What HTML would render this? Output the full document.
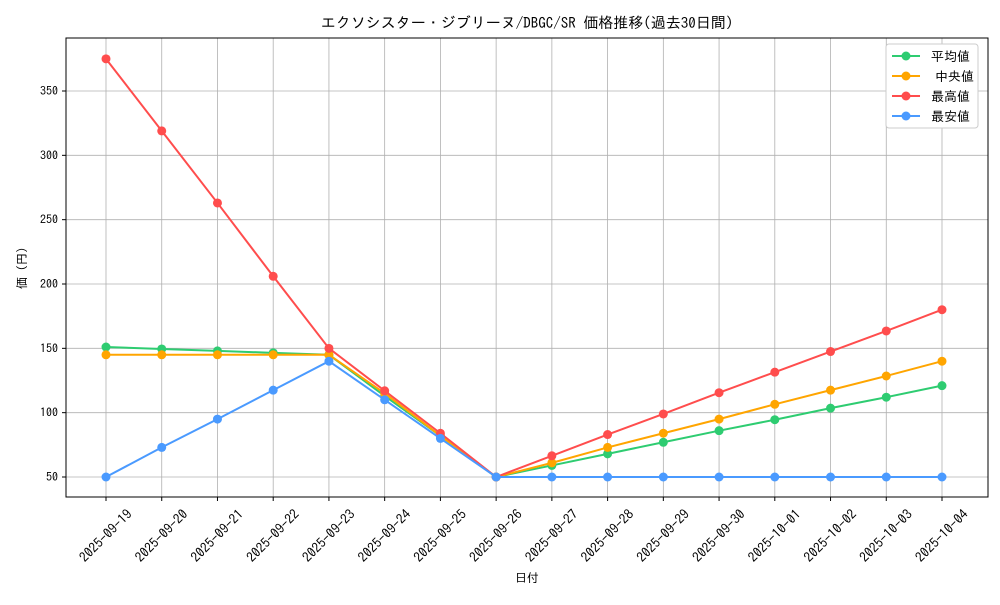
<!DOCTYPE html>
<html><head><meta charset="utf-8"><style>
html,body{margin:0;padding:0;background:#fff;}
svg text{font-family:"IPAGothic","Noto Sans CJK JP",sans-serif;fill:#000;}
</style></head><body>
<svg id="c" width="1000" height="600" xmlns="http://www.w3.org/2000/svg"></svg>
<script>
const s=document.getElementById('c');
const L=66,R=988,T=38,B=497;
const x0=106,dx=(942-106)/15;
const y=v=>477-(v-50)*(386/300);
let h='<rect width="1000" height="600" fill="#fff"/>';
const dates=["2025-09-19","2025-09-20","2025-09-21","2025-09-22","2025-09-23","2025-09-24","2025-09-25","2025-09-26","2025-09-27","2025-09-28","2025-09-29","2025-09-30","2025-10-01","2025-10-02","2025-10-03","2025-10-04"];
dates.forEach((d,i)=>{const x=x0+i*dx;h+=`<line x1="${x}" y1="${T}" x2="${x}" y2="${B}" stroke="#b0b0b0" stroke-width="0.8"/>`;
h+=`<line x1="${x}" y1="${B}" x2="${x}" y2="${B+4}" stroke="#000"/>`;
h+=`<text font-size="13.5" text-anchor="middle" transform="translate(${x+3},${B+42}) rotate(-45)">${d}</text>`;});
[50,100,150,200,250,300,350].forEach(v=>{const yy=y(v);h+=`<line x1="${L}" y1="${yy}" x2="${R}" y2="${yy}" stroke="#b0b0b0" stroke-width="0.8"/>`;
h+=`<line x1="${L-4}" y1="${yy}" x2="${L}" y2="${yy}" stroke="#000"/>`;
h+=`<text x="${L-8}" y="${yy+4}" font-size="12" text-anchor="end">${v}</text>`;});
const ser=[
["#ff4d4d",[375,319,263,206,150,117,84,50,66.5,83,99,115.5,131.5,147.5,163.5,180]],
["#ffa500",[145,145,145,145,145,115,82,50,61,73,84,95,106.5,117.5,128.5,140]],
["#2ecc71",[151,149.5,148,146.5,145,113,82,50,59,68,77,86,94.5,103.5,112,121]],
["#4a9aff",[50,73,95,117.5,140,110,80,50,50,50,50,50,50,50,50,50]]];
[ser[2],ser[1],ser[0],ser[3]].forEach(([c,d])=>{
h+=`<polyline fill="none" stroke="${c}" stroke-width="2" points="${d.map((v,i)=>(x0+i*dx)+','+y(v)).join(' ')}"/>`;
d.forEach((v,i)=>h+=`<circle cx="${x0+i*dx}" cy="${y(v)}" r="4.5" fill="${c}"/>`);});
h+=`<rect x="${L}" y="${T}" width="${R-L}" height="${B-T}" fill="none" stroke="#000" stroke-width="1"/>`;
h+=`<text x="527" y="28" font-size="15" text-anchor="middle">エクソシスター・ジブリーヌ/DBGC/SR 価格推移(過去30日間)</text>`;
h+=`<text x="527" y="582" font-size="12" text-anchor="middle">日付</text>`;
h+=`<text font-size="12" text-anchor="middle" transform="translate(26,268) rotate(-90)">価 (円)</text>`;
h+=`<rect x="886" y="44" width="92" height="84" fill="#fff" stroke="#ccc" rx="3"/>`;
[["#2ecc71","平均値",931],["#ffa500","中央値",935],["#ff4d4d","最高値",931],["#4a9aff","最安値",931]].forEach(([c,t,tx],i)=>{const yy=56+i*20;
h+=`<line x1="892" y1="${yy}" x2="920" y2="${yy}" stroke="${c}" stroke-width="2"/><circle cx="906" cy="${yy}" r="4.5" fill="${c}"/>`;
h+=`<text x="${tx}" y="${yy+5}" font-size="13">${t}</text>`;});
s.innerHTML=h;
</script>
</body></html>
